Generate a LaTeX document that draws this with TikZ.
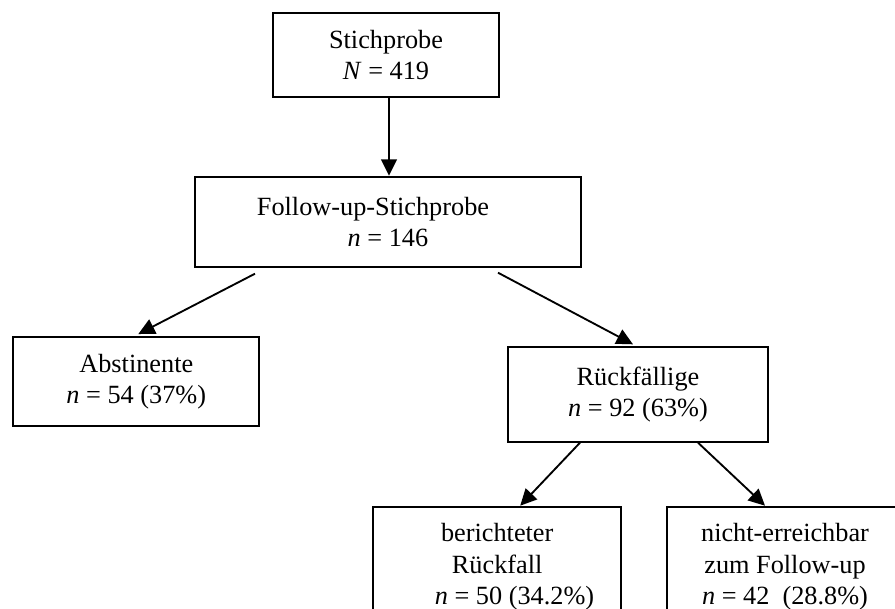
\documentclass[tikz,border=0pt]{standalone}
\usepackage{fontspec}
\setmainfont{Liberation Serif}
\usetikzlibrary{arrows.meta,calc}
\begin{document}
\begin{tikzpicture}[x=0.4566pt,y=-0.4566pt,
  box/.style={draw,line width=0.9pt,rectangle,align=center,inner sep=0pt,
    font=\fontsize{12}{14.2}\selectfont},
  arr/.style={line width=0.85pt,-{Triangle[length=7.5pt,width=7.2pt]}}]
\useasboundingbox (0,0) rectangle (895,609);
\clip (0,0) rectangle (895,609);
\node[box,minimum width=103.5pt,minimum height=38.1pt] (b1) at (386,55)
  {Stichprobe\\\textit{N} = 419};
\node[box,minimum width=176.2pt,minimum height=41.1pt] (b2) at (388,221.7)
  {Follow-up-Stichprobe\hspace*{13.7pt}\\\textit{n} = 146};
\node[box,minimum width=112.3pt,minimum height=40.5pt] (b3) at (136.3,381.4)
  {Abstinente\\\textit{n} = 54 (37\%)};
\node[box,minimum width=118.4pt,minimum height=43.1pt] (b4) at (638,394.5)
  {Rückfällige\\\textit{n} = 92 (63\%)};
\node[box,minimum width=113.1pt,minimum height=54.8pt] (b5) at (497.2,566.7)
  {berichteter\\Rückfall\\\hspace*{15.8pt}\textit{n} = 50 (34.2\%)};
\node[box,minimum width=108pt,minimum height=54.8pt] (b6) at (785,566.7)
  {nicht-erreichbar\\zum Follow-up\\\textit{n} = 42\ \ (28.8\%)};
\draw[arr] ($(b1.south)+(3,0)$) -- ($(b2.north)+(1,0)$);
\draw[arr] ($(b2.south)+(-133,6)$) -- ($(b3.north)+(2,-2)$);
\draw[arr] ($(b2.south)+(110,5)$) -- ($(b4.north)+(-5,-2)$);
\draw[arr] ($(b4.south)+(-58,0)$) -- ($(b5.north)+(23,0)$);
\draw[arr] ($(b4.south)+(60,0)$) -- ($(b6.north)+(-20,0)$);
\end{tikzpicture}
\end{document}
